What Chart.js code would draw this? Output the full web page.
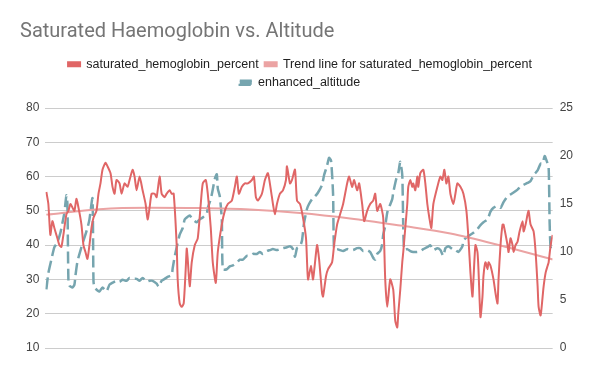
<!DOCTYPE html>
<html>
<head>
<meta charset="utf-8">
<script src="https://cdn.jsdelivr.net/npm/chart.js@4"></script>
<style>
  html, body { margin: 0; padding: 0; background: #fff; }
  #wrap { width: 600px; height: 371px; }
</style>
</head>
<body>
<div id="wrap"><canvas id="hbChart" width="600" height="371"></canvas></div>
<script>
// sample number along the ride, and values
const hbSample = [1,3,5,7,9,11,12,14,16,18,21,23,25,27,29,31,33,36,38,40,42,44,46,48,51,53,55,57,60,62,65,67,69,71,74,76,79,82,84,87,89,91,94,97,100,102,104,106,109,111,114,116,119,121,124,126,128,131,132,134,136,138,140,141,142,144,146,149,152,155,157,160,162,165,167,170,172,176,179,182,186,189,191,193,196,199,202,206,208,210,212,216,219,222,225,227,229,231,234,237,240,241,244,246,249,251,254,257,260,262,265,267,271,273,276,277,280,282,286,288,291,294,297,301,303,306,308,311,313,316,318,321,324,327,329,331,334,337,339,341,344,347,349,351,352,354,356,357,359,361,362,364,366,367,369,371,372,374,377,379,381,383,385,387,391,394,396,398,400,402,404,407,409,411,414,417,420,422,424,426,427,429,431,432,434,436,437,439,441,442,444,447,449,451,452,454,456,457,461,462,464,466,467,469,471,473,476,477,479,481,482,484,487,489,491,492,494,496,497,499,501,502,504,506];
const hbPercent = [55.5,52,43,47,45,43,42,40,39.5,43,49,50,52,51,50,53.5,51,46,40,38,36,40,45,48,50,55,58,62,64,63,61,57,55,59,58,55,58,57,59,62,60,56,60,56,52,47.5,51,55,55,54,60,55,54,55,56,55,55,40,30,23,22,23,33,39,36,28,35,40,42,52,58,59,55,45,35,29,38,46,50,52,53,57,60,55,57,58,58,59,60,54,53,55,59,61,56,52,49,52,55,56,59,63,58,59,62,53,52,48,42,30,34,30,40,36,26,25,31,33,35,40,46,49,52,58,60,57,59,56,58,52,47,50,52,53,55,50,52,48,30,22,30,27,18,16,20,27,35,38,45,52,57,59,57,58,56,60,57,61,62,58,52,48,45,52,57,60,59,62,58,60,55,52,55,58,57,55,50,42,32,25,30,40,38,33,19,25,31,35,33,35,34,30,26,23,30,40,46,46,40,38,42,40,38,40,41,44,47,44,46,49,50,46,44,38,28,22,19.5,25,28,32,34,35,40,43];

const trendSample = [1,54,104,154,204,254,304,354,404,454,506];
const trendPercent = [48.9,50.5,50.9,50.8,50.4,49.4,47.8,45.7,43.4,39.9,35.8];

const altSample = [1,3,6,9,12,15,17,19,21,22,23,24,27,29,30,32,36,39,42,44,47,48,49,52,54,57,61,64,67,71,74,77,81,84,87,91,94,97,101,104,107,111,113,116,119,122,126,127,129,131,134,137,139,141,144,147,151,154,157,161,162,165,167,169,171,172,174,176,177,181,184,187,191,194,197,201,204,207,211,214,217,221,224,227,231,234,237,241,244,247,249,251,254,256,258,261,263,266,269,272,276,278,281,283,285,287,288,291,294,297,301,304,307,311,314,317,321,324,327,329,331,334,336,337,339,341,343,346,347,350,352,354,356,357,358,361,364,367,371,374,377,381,384,387,391,394,397,399,402,406,409,412,416,417,421,424,427,431,434,437,441,444,447,451,454,457,461,464,467,471,474,477,481,484,487,491,494,496,498,500,502,503,504,506];
const altitude = [6.1,7.8,9.2,10.5,11,12,13,14.1,15.9,15,7,6.5,6.3,6.6,7.5,9,10.5,11.5,12.5,13.4,15.6,7,6.3,6,5.9,6.3,5.9,6.6,6.8,7,6.9,7.1,7,7.3,7.2,7.2,7.0,7.3,6.9,7.0,7.0,6.7,6.4,7.0,7.2,7.4,7.6,8.3,9.5,10.5,11.8,12.5,13.4,13.6,13.8,13.4,13.1,13.4,13.6,14.0,14.6,15.5,16.5,17.6,18.1,16.6,15.8,13.4,8.2,8.2,8.5,8.6,8.9,9.2,9.2,9.6,9.6,9.8,9.8,10.0,9.8,10.1,10.2,10.3,10.2,10.3,10.4,10.5,10.6,10.3,9.5,10.4,10.6,11.2,13,14.5,15,15.5,15.8,16.2,17,18,19,19.8,19.5,16,10.3,10.3,10.2,10.1,10.3,10.2,10.2,10.4,10.4,10.1,10.2,10.0,9.4,9.2,9.8,10.1,10.8,11.8,12.7,14.1,14.7,15.5,16.2,17.6,18.2,19.4,18,12.5,10.2,10.3,10.1,10.0,10.0,10.1,10.3,10.5,10.7,10.2,10.4,10.2,9.6,10.4,10.6,10.3,10.2,10.0,10.6,11.2,11.6,11.8,12.0,12.4,12.8,13.1,13.4,14.2,14.6,14.8,14.6,15.2,15.8,16.0,16.2,16.5,16.8,17.0,17.2,17.4,18.0,18.5,19.2,19.2,20.0,19.5,18.8,13,10.5,10.8];

const leftTicks = [10, 80];
const rightTicks = [0, 25];

const toPoints = (xs, ys) => xs.map((x, i) => ({ x: x, y: ys[i] }));

// leave a bit more room between the legend and the plot
const legendGap = {
    id: 'legendGap',
    beforeInit(chart) {
        const fit = chart.legend.fit;
        chart.legend.fit = function () {
            fit.call(this);
            this.height += 9;
        };
    }
};

new Chart(document.getElementById('hbChart'), {
    type: 'line',
    data: {
        datasets: [
            {
                label: 'saturated_hemoglobin_percent',
                data: toPoints(hbSample, hbPercent),
                borderColor: '#e06666',
                backgroundColor: '#e06666',
                borderWidth: 2,
                yAxisID: 'y',
                tension: 0.2
            },
            {
                label: 'Trend line for saturated_hemoglobin_percent',
                data: toPoints(trendSample, trendPercent),
                borderColor: '#eba3a3',
                backgroundColor: '#eba3a3',
                borderWidth: 2,
                yAxisID: 'y',
                cubicInterpolationMode: 'monotone'
            },
            {
                label: 'enhanced_altitude',
                data: toPoints(altSample, altitude),
                borderColor: '#76a5af',
                backgroundColor: '#76a5af',
                borderWidth: 2.5,
                borderDash: [12, 5],
                yAxisID: 'y1',
                tension: 0.2
            }
        ]
    },
    plugins: [legendGap],
    options: {
        responsive: false,
        animation: false,
        layout: { padding: { left: 20, right: 20, top: 6, bottom: 23 } },
        elements: { point: { radius: 0 } },
        scales: {
            x: {
                type: 'linear',
                min: 0,
                max: 506,
                display: false
            },
            y: {
                position: 'left',
                min: leftTicks[0],
                max: leftTicks[1],
                ticks: { stepSize: 10, color: '#444', font: { family: 'Arial', size: 12 }, padding: 6 },
                grid: { color: '#cccccc', drawTicks: false },
                border: { display: false }
            },
            y1: {
                position: 'right',
                min: rightTicks[0],
                max: rightTicks[1],
                ticks: { stepSize: 5, color: '#444', font: { family: 'Arial', size: 12 }, padding: 7 },
                grid: { display: false, drawTicks: false },
                border: { display: false }
            }
        },
        plugins: {
            title: {
                display: true,
                text: 'Saturated Haemoglobin vs. Altitude',
                align: 'start',
                color: '#757575',
                font: { family: 'Roboto', size: 20, weight: 'normal' },
                padding: { top: 14, bottom: 8 }
            },
            legend: {
                display: true,
                position: 'top',
                labels: {
                    boxWidth: 12,
                    boxHeight: 4,
                    padding: 6,
                    color: '#222',
                    font: { family: 'Arial', size: 12.5 }
                }
            },
            tooltip: { enabled: false }
        }
    }
});
</script>
</body>
</html>
